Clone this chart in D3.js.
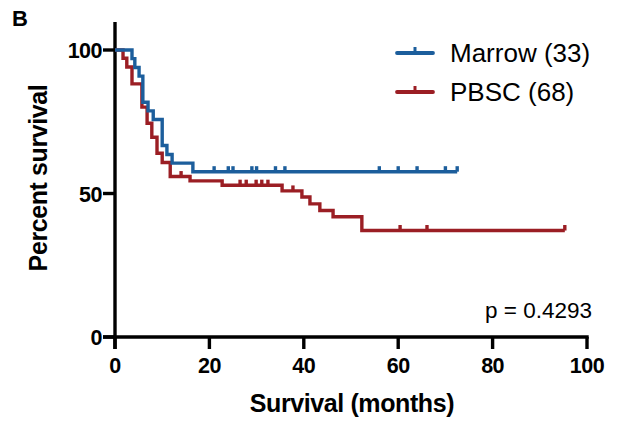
<!DOCTYPE html>
<html><head><meta charset="utf-8">
<script src="https://cdn.jsdelivr.net/npm/d3@7"></script>
<style>body{margin:0;background:#fff}svg{display:block;font-family:"Liberation Sans",Arial,sans-serif}</style>
</head><body><svg id="c" width="619" height="423"></svg>
<script>
const seriesNames = ["Marrow (33)", "PBSC (68)"];
const marrowTimes = [0, 3.6, 4.2, 5.1, 5.9, 7.0, 8.1, 10.0, 11.0, 12.1, 16.5];
const marrowSurv  = [100, 97.0, 93.9, 90.9, 81.8, 78.8, 75.8, 66.7, 63.6, 60.6, 57.6];
const marrowEnd = 72.5;
const marrowCensor = [21, 24, 25, 29, 30, 34, 36, 56, 60, 64, 70, 72.5];
const pbscTimes = [0, 1.7, 2.5, 3.6, 5.7, 6.8, 7.8, 8.9, 10.0, 11.7, 15.9, 22.7, 35.4, 39.6, 41.3, 43.4, 46.2, 52.3];
const pbscSurv  = [100, 97.1, 94.1, 88.2, 80.1, 74.5, 69.6, 64.0, 60.8, 55.9, 54.4, 52.9, 50.9, 48.8, 46.4, 44.1, 41.9, 37.1];
const pbscEnd = 95.3;
const pbscCensor = [14, 26.5, 27.8, 29.9, 31.1, 32.4, 37.7, 60.4, 66.1, 95.3];
const xTicks = [0, 20, 40, 60, 80, 100];
const yTicks = [0, 50, 100];
const pText = "p = 0.4293";
const colors = ["#1c5e9c", "#9b1e24"];

const svg = d3.select("#c");
const x = d3.scaleLinear().domain([0, 100]).range([115, 587]);
const y = d3.scaleLinear().domain([0, 100]).range([337, 50]);

function survAt(times, surv, t){ let s = surv[0]; for(let i=0;i<times.length;i++){ if(times[i] <= t) s = surv[i]; } return s; }

function drawCurve(times, surv, end, censor, color){
  const pts = times.map((t,i)=>[t, surv[i]]);
  pts.push([end, surv[surv.length-1]]);
  const line = d3.line().x(d=>x(d[0])).y(d=>y(d[1])).curve(d3.curveStepAfter);
  svg.append("path").attr("d", line(pts)).attr("fill","none").attr("stroke", color)
    .attr("stroke-width", 3.4).attr("stroke-linejoin","miter").attr("stroke-linecap","butt");
  svg.selectAll(null).data(censor).enter().append("line")
    .attr("x1", d=>x(d)).attr("x2", d=>x(d))
    .attr("y1", d=>y(survAt(times, surv, d))).attr("y2", d=>y(survAt(times, surv, d)) - 5.5)
    .attr("stroke", color).attr("stroke-width", 3.4);
}

// axes
const ax = svg.append("g").attr("stroke","#000").attr("stroke-width",3.4);
ax.append("line").attr("x1", x(0)).attr("x2", x(0)).attr("y1", 22).attr("y2", y(0)+12);
ax.append("line").attr("x1", x(0)-12).attr("x2", x(100)+1.7).attr("y1", y(0)).attr("y2", y(0));
ax.selectAll(".yt").data(yTicks).enter().append("line")
  .attr("x1", x(0)-12).attr("x2", x(0)).attr("y1", d=>y(d)).attr("y2", d=>y(d));
ax.selectAll(".xt").data(xTicks).enter().append("line")
  .attr("x1", d=>x(d)).attr("x2", d=>x(d)).attr("y1", y(0)).attr("y2", y(0)+12);

svg.selectAll(".ytl").data(yTicks).enter().append("text")
  .attr("x", x(0)-13).attr("y", d=>y(d)+8).attr("text-anchor","end")
  .attr("font-size", 21.5).attr("font-weight","bold").attr("letter-spacing", -0.5).text(d=>d);
svg.selectAll(".xtl").data(xTicks).enter().append("text")
  .attr("x", d=>x(d)).attr("y", 373).attr("text-anchor","middle")
  .attr("font-size", 21.5).attr("font-weight","bold").attr("letter-spacing", -0.5).text(d=>d);

svg.append("text").attr("x", 352).attr("y", 412).attr("text-anchor","middle")
  .attr("font-size", 25).attr("font-weight","bold").attr("letter-spacing", -0.4).text("Survival (months)");
svg.append("text").attr("transform","translate(47,178) rotate(-90)").attr("text-anchor","middle")
  .attr("font-size", 25).attr("font-weight","bold").attr("letter-spacing", -0.4).text("Percent survival");
svg.append("text").attr("x", 12).attr("y", 26).attr("font-size", 22).attr("font-weight","bold").text("B");

drawCurve(pbscTimes, pbscSurv, pbscEnd, pbscCensor, colors[1]);
drawCurve(marrowTimes, marrowSurv, marrowEnd, marrowCensor, colors[0]);

// legend
const lg = svg.append("g");
seriesNames.forEach((n,i)=>{
  const ly = 53 + i*39;
  lg.append("line").attr("x1",397).attr("x2",433).attr("y1",ly).attr("y2",ly).attr("stroke",colors[i]).attr("stroke-width",3.8).attr("stroke-linecap","round");
  lg.append("line").attr("x1",415).attr("x2",415).attr("y1",ly).attr("y2",ly-6).attr("stroke",colors[i]).attr("stroke-width",3);
  lg.append("text").attr("x",450).attr("y",ly+9).attr("font-size",26).text(n);
});
svg.append("text").attr("x", 592).attr("y", 318).attr("text-anchor","end").attr("font-size", 22.5).text(pText);
</script></body></html>
